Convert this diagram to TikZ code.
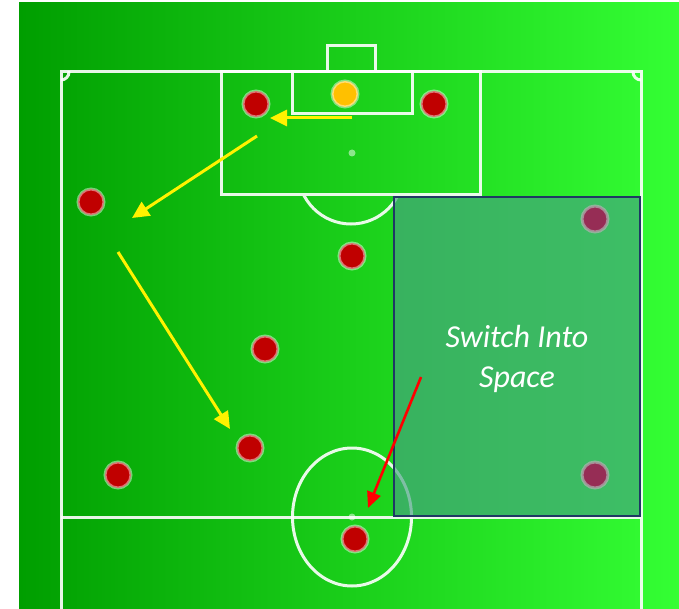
\documentclass[tikz,border=0pt]{standalone}
\usepackage{fontspec}
\newfontfamily\carlito{Carlito}
\usetikzlibrary{arrows.meta}
\definecolor{pitchL}{RGB}{0,158,0}
\definecolor{pitchR}{RGB}{52,255,52}
\definecolor{boxfill}{RGB}{70,160,130}
\definecolor{boxline}{RGB}{31,56,100}
\definecolor{redplayer}{RGB}{192,0,0}
\definecolor{keeper}{RGB}{255,192,0}
\definecolor{opp}{RGB}{150,45,85}
\tikzset{
  pline/.style={draw=white, draw opacity=0.9, line width=3pt},
  player/.style={circle, minimum size=26pt, inner sep=0pt, line width=3pt, draw=white, draw opacity=0.45, fill=redplayer},
  gk/.style={player, fill=keeper},
  opponent/.style={player, fill=opp, draw=gray!60!white, draw opacity=0.7},
  spot/.style={circle, minimum size=7pt, inner sep=0pt, fill=white, fill opacity=0.5},
  yarrow/.style={draw=yellow, line width=3pt, -{Triangle[length=17pt,width=16pt]}},
  rarrow/.style={draw=red, line width=2.6pt, -{Triangle[length=16pt,width=14pt]}},
  boxtext/.style={font=\carlito\itshape\fontsize{32}{40}\selectfont, text=white, align=center}
}
\begin{document}
\begin{tikzpicture}[x=1pt,y=-1pt]
\useasboundingbox (0,0) rectangle (679,609);
\fill[white] (0,0) rectangle (679,609);
\shade[left color=pitchL, right color=pitchR] (19,3) rectangle (679,609);
% pitch outline
\draw[pline] (61,609) -- (61,72) -- (641,72) -- (641,609);
\draw[pline] (61,517) -- (641,517);
% penalty area, goal area, goal
\draw[pline] (221,72) rectangle (480,195);
\draw[pline] (292,72) rectangle (412,114);
\draw[pline] (327,72) -- (327,46) -- (375,46) -- (375,72);
\begin{scope}
  \clip (61,72) rectangle (641,609);
  \draw[pline] (61,72) circle[radius=8pt];
  \draw[pline] (641,72) circle[radius=8pt];
\end{scope}
\begin{scope}
  \clip (0,196.5) rectangle (679,609);
  \draw[pline] (351,171) circle[radius=53pt];
\end{scope}
\draw[pline] (352,517) ellipse[x radius=59.5pt, y radius=69pt];
\node[spot] (pspot) at (352,153) {};
\node[spot] (cspot) at (352,517) {};
% highlighted space
\draw[fill=boxfill, fill opacity=0.65, draw=boxline, line width=2.5pt] (394,197) rectangle (640,516);
\node[boxtext] (label) at (517,359) {Switch Into\\Space};
% players
\node[gk] (gk) at (345,94) {};
\node[player] (p1) at (256,104) {};
\node[player] (p2) at (434,104) {};
\node[player] (p3) at (91,202) {};
\node[player] (p4) at (352,256) {};
\node[player] (p5) at (265,349) {};
\node[player] (p6) at (250,448) {};
\node[player] (p7) at (118,475) {};
\node[player] (p8) at (355,539) {};
\node[opponent] (o1) at (595,219) {};
\node[opponent] (o2) at (595,475) {};
% arrows
\coordinate (a1s) at (352,118);
\coordinate (a1e) at (270,118);
\coordinate (a2s) at (257,136);
\coordinate (a2e) at (132,218);
\coordinate (a3s) at (118,252);
\coordinate (a3e) at (230,429);
\coordinate (a4s) at (421,377);
\coordinate (a4e) at (368,508);
\draw[yarrow] (a1s) -- (a1e);
\draw[yarrow] (a2s) -- (a2e);
\draw[yarrow] (a3s) -- (a3e);
\draw[rarrow] (a4s) -- (a4e);
\end{tikzpicture}
\end{document}
